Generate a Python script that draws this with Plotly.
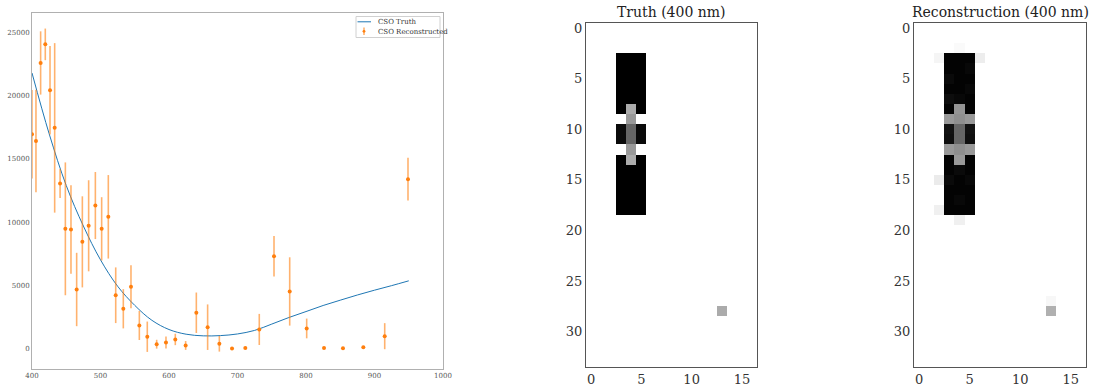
import plotly.graph_objects as go

# ---------------- Left panel data ----------------
truth_wl = [400, 425, 450, 475, 500, 525, 550, 575, 600, 625, 650, 675, 700,
            725, 750, 775, 800, 825, 850, 875, 900, 925, 950]
truth_val = [21800, 17000, 12900, 9700, 7030, 4940, 3430, 2250, 1520, 1150, 1020, 1040, 1170,
             1450, 1950, 2470, 2940, 3420, 3840, 4250, 4630, 4990, 5370]

rec_wl = [400, 405.8, 412.6, 419.4, 426.3, 433.1, 441, 448.7, 456.9, 465.2, 473.5, 482.7, 492.5,
          501.7, 511.4, 522.2, 533.3, 544.5, 556.7, 568.3, 582, 595.6, 609.2, 624.3, 639.9,
          656.4, 673.5, 692, 711.4, 731.8, 753.3, 776.2, 801, 826.3, 854, 883.7, 914.9, 948.9]
rec_val = [16950, 16430, 22590, 24060, 20430, 17460, 13060, 9480, 9425, 4685, 8450, 9720, 11320,
           9480, 10430, 4230, 3160, 4900, 1840, 950, 360, 500, 735, 260, 2845,
           1705, 395, 20, 60, 1525, 7315, 4530, 1605, 60, 50, 120, 995, 13400]
rec_err = [3500, 4050, 2500, 1250, 3500, 6700, 1150, 5250, 3500, 2900, 3600, 3600, 2650,
           2500, 3300, 2200, 1550, 1700, 1150, 1200, 350, 470, 450, 350, 1600,
           1800, 620, 0, 0, 1230, 1600, 2700, 780, 0, 0, 0, 1030, 1690]

x_ticks_left = [400, 500, 600, 700, 800, 900, 1000]
y_ticks_left = [0, 5000, 10000, 15000, 20000, 25000]
legend_labels = ["CSO Truth", "CSO Reconstructed"]

# ---------------- Heatmap data ----------------
n_cols, n_rows = 17, 34
# rectangles: (col0, col1, row0, row1, value)
truth_rects = [(3, 5, 3, 8, 1.0), (3, 5, 10, 11, 0.96), (3, 5, 13, 18, 1.0)]
# single cells: (col, row, value)
truth_cells = [(4, 8, 0.33), (4, 9, 0.40), (4, 10, 0.60), (4, 11, 0.60),
               (4, 12, 0.40), (4, 13, 0.33), (13, 28, 0.33)]

recon_rects = [(3, 5, 3, 18, 0.99)]
recon_cells = [(3, 5, 0.96), (5, 6, 0.97), (4, 7, 0.97), (3, 7, 0.95), (5, 4, 0.97),
               (4, 8, 0.42), (3, 9, 0.40), (4, 9, 0.44), (5, 9, 0.40),
               (3, 10, 0.93), (4, 10, 0.60), (5, 10, 0.93),
               (3, 11, 0.94), (4, 11, 0.60), (5, 11, 0.94),
               (3, 12, 0.40), (4, 12, 0.44), (5, 12, 0.40),
               (4, 13, 0.40), (4, 14, 0.96), (5, 15, 0.97), (3, 15, 0.96), (4, 17, 0.97),
               (2, 3, 0.04), (6, 3, 0.07), (4, 2, 0.02), (2, 15, 0.08), (2, 18, 0.06),
               (4, 19, 0.06), (13, 27, 0.03), (13, 28, 0.31)]


def build_grid(rects, cells):
    g = [[0.0] * n_cols for _ in range(n_rows)]
    for c0, c1, r0, r1, v in rects:
        for r in range(r0, r1 + 1):
            for c in range(c0, c1 + 1):
                g[r][c] = v
    for c, r, v in cells:
        g[r][c] = v
    return g


truth_grid = build_grid(truth_rects, truth_cells)
recon_grid = build_grid(recon_rects, recon_cells)

SERIF = "DejaVu Serif"
W, H = 1096, 388
BLUE, ORANGE = "#1f77b4", "#ff7f0e"
ERR = "rgba(255,127,14,0.6)"

fig = go.Figure()

fig.add_trace(go.Scatter(
    x=truth_wl, y=truth_val, mode="lines", name=legend_labels[0],
    line=dict(color=BLUE, width=1, shape="spline", smoothing=1.0),
    xaxis="x", yaxis="y"))
fig.add_trace(go.Scatter(
    x=rec_wl, y=rec_val, mode="markers", name=legend_labels[1],
    marker=dict(color=ORANGE, size=4),
    error_y=dict(type="data", array=rec_err, visible=True, width=0,
                 thickness=1.6, color=ERR),
    xaxis="x", yaxis="y"))

cs = [[0, "#ffffff"], [1, "#000000"]]
fig.add_trace(go.Heatmap(z=truth_grid, x=list(range(n_cols)), y=list(range(n_rows)),
                         colorscale=cs, zmin=0, zmax=1, showscale=False,
                         xaxis="x2", yaxis="y2", hoverinfo="skip"))
fig.add_trace(go.Heatmap(z=recon_grid, x=list(range(n_cols)), y=list(range(n_rows)),
                         colorscale=cs, zmin=0, zmax=1, showscale=False,
                         xaxis="x3", yaxis="y3", hoverinfo="skip"))

left_dom_x = [32 / W, 443 / W]
left_dom_y = [(H - 369) / H, (H - 13) / H]
hm_dom_y = [(H - 367) / H, (H - 23) / H]
t_dom_x = [586 / W, 757 / W]
r_dom_x = [914 / W, 1086 / W]

left_axis_common = dict(showgrid=False, zeroline=False, showline=True, mirror=True,
                        linecolor="#b0b0b0", linewidth=1, ticks="", automargin=False,
                        tickfont=dict(family=SERIF, size=7, color="#555"))
hm_axis_common = dict(showgrid=False, zeroline=False, showline=True, mirror=True,
                      linecolor="#555", linewidth=1, ticks="", automargin=False,
                      tickfont=dict(family=SERIF, size=13, color="#333"))


def px(xp):
    return xp / W


def py(yp):
    return (H - yp) / H


# manual legend (paper coordinates, pixel positions converted)
shapes = [
    dict(type="rect", xref="paper", yref="paper", x0=px(356), x1=px(440), y0=py(37.5), y1=py(16.5),
         line=dict(color="#d0d0d0", width=1), fillcolor="white", layer="above"),
    dict(type="line", xref="paper", yref="paper", x0=px(357.5), x1=px(371), y0=py(21.8), y1=py(21.8),
         line=dict(color=BLUE, width=1), layer="above"),
    dict(type="line", xref="paper", yref="paper", x0=px(364), x1=px(364), y0=py(27.5), y1=py(35),
         line=dict(color=ERR, width=1.6), layer="above"),
    dict(type="circle", xref="paper", yref="paper", x0=px(362.6), x1=px(365.4), y0=py(32.7), y1=py(29.9),
         line=dict(color=ORANGE, width=0), fillcolor=ORANGE, layer="above"),
]

annotations = [
    dict(text=legend_labels[0], x=px(376), y=py(21.8), xref="paper", yref="paper", showarrow=False,
         xanchor="left", yanchor="middle", font=dict(family=SERIF, size=7, color="#333")),
    dict(text=legend_labels[1], x=px(376), y=py(31.5), xref="paper", yref="paper", showarrow=False,
         xanchor="left", yanchor="middle", font=dict(family=SERIF, size=7, color="#333")),
    dict(text="Truth (400 nm)", x=(t_dom_x[0] + t_dom_x[1]) / 2, y=py(12),
         xref="paper", yref="paper", showarrow=False, xanchor="center", yanchor="middle",
         font=dict(family=SERIF, size=14, color="#222")),
    dict(text="Reconstruction (400 nm)", x=(r_dom_x[0] + r_dom_x[1]) / 2, y=py(12),
         xref="paper", yref="paper", showarrow=False, xanchor="center", yanchor="middle",
         font=dict(family=SERIF, size=14, color="#222")),
]

fig.update_layout(
    width=W, height=H, margin=dict(l=0, r=0, t=0, b=0),
    plot_bgcolor="white", paper_bgcolor="white",
    showlegend=False,
    xaxis=dict(domain=left_dom_x, range=[400, 1000], tickvals=x_ticks_left,
               anchor="y", **left_axis_common),
    yaxis=dict(domain=left_dom_y, range=[-1600, 26540], tickvals=y_ticks_left,
               tickformat="d", anchor="x", **left_axis_common),
    xaxis2=dict(domain=t_dom_x, range=[-0.5, 16.5], tickvals=[0, 5, 10, 15],
                anchor="y2", **hm_axis_common),
    yaxis2=dict(domain=hm_dom_y, range=[33.5, -0.5], tickvals=[0, 5, 10, 15, 20, 25, 30],
                anchor="x2", **hm_axis_common),
    xaxis3=dict(domain=r_dom_x, range=[-0.5, 16.5], tickvals=[0, 5, 10, 15],
                anchor="y3", **hm_axis_common),
    yaxis3=dict(domain=hm_dom_y, range=[33.5, -0.5], tickvals=[0, 5, 10, 15, 20, 25, 30],
                anchor="x3", **hm_axis_common),
    shapes=shapes,
    annotations=annotations,
)

fig.write_html("out.html",
               config={"displayModeBar": False},
               post_script="document.body.style.margin='0';document.body.style.overflow='hidden';")
